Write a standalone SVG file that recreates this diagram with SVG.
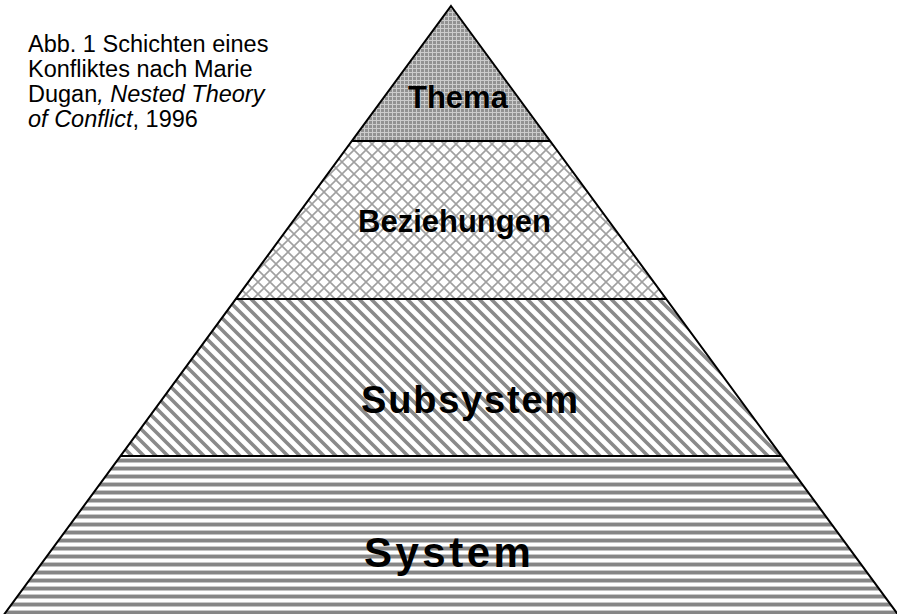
<svg xmlns="http://www.w3.org/2000/svg" width="897" height="614" viewBox="0 0 897 614">
<style>
.lbl{font-family:"Liberation Sans",Arial,sans-serif;font-weight:bold;fill:#000}
.cap{font-family:"Liberation Sans",Arial,sans-serif;font-size:23.5px;fill:#000}
.it{font-style:italic}
.edge{fill:none;stroke:#000;stroke-width:2}
</style>
<defs>
<pattern id="pDots" patternUnits="userSpaceOnUse" width="4" height="4">
<rect width="4" height="4" fill="#929292"/>
<rect width="4" height="1" fill="#cccccc"/>
<rect width="1" height="4" fill="#cccccc"/>
</pattern>
<pattern id="pCross" patternUnits="userSpaceOnUse" width="12" height="12">
<rect width="12" height="12" fill="#fff"/>
<path d="M-1,-1 L13,13 M13,-1 L-1,13" stroke="#a0a0a0" stroke-width="1.6"/>
</pattern>
<pattern id="pDiag" patternUnits="userSpaceOnUse" width="12" height="12">
<rect width="12" height="12" fill="#fff"/>
<path d="M-3,-3 L15,15 M-3,9 L3,15 M9,-3 L15,3" stroke="#8a8a8a" stroke-width="3.6"/>
</pattern>
<pattern id="pHoriz" patternUnits="userSpaceOnUse" width="8" height="8">
<rect width="8" height="8" fill="#fff"/>
<rect y="2" width="8" height="1" fill="#c8c8c8"/>
<rect y="3" width="8" height="3" fill="#868686"/>
<rect y="6" width="8" height="1" fill="#c4c4c4"/>
</pattern>
</defs>
<rect width="897" height="614" fill="#fff"/>
<g id="caption">
<text class="cap" x="28" y="52">Abb. 1 Schichten eines</text>
<text class="cap" x="28" y="77">Konfliktes nach Marie</text>
<text class="cap" x="28" y="102">Dugan<tspan class="it">, Nested Theory</tspan></text>
<text class="cap" x="28" y="127"><tspan class="it">of Conflict</tspan>, 1996</text>
</g>
<g id="layer-thema">
<polygon points="451,6 550.1,141 351.9,141" fill="url(#pDots)"/>
<text class="lbl" x="408" y="108" font-size="31">Thema</text>
</g>
<g id="layer-beziehungen">
<polygon points="351.9,141 550.1,141 666.2,299 235.8,299" fill="url(#pCross)"/>
<text class="lbl" x="358" y="232" font-size="31">Beziehungen</text>
</g>
<g id="layer-subsystem">
<polygon points="235.8,299 666.2,299 781.5,456 120.5,456" fill="url(#pDiag)"/>
<text class="lbl" x="361" y="413" font-size="38" letter-spacing="1.8">Subsystem</text>
</g>
<g id="layer-system">
<polygon points="120.5,456 781.5,456 899,616 3,616" fill="url(#pHoriz)"/>
<text class="lbl" x="364" y="567" font-size="42" letter-spacing="3.5">System</text>
</g>
<g id="connectors">
<polygon class="edge" points="451,6 899,616 3,616"/>
<line class="edge" x1="351.9" y1="141" x2="550.1" y2="141"/>
<line class="edge" x1="235.8" y1="299" x2="666.2" y2="299"/>
<line class="edge" x1="120.5" y1="456" x2="781.5" y2="456"/>
</g>
</svg>
